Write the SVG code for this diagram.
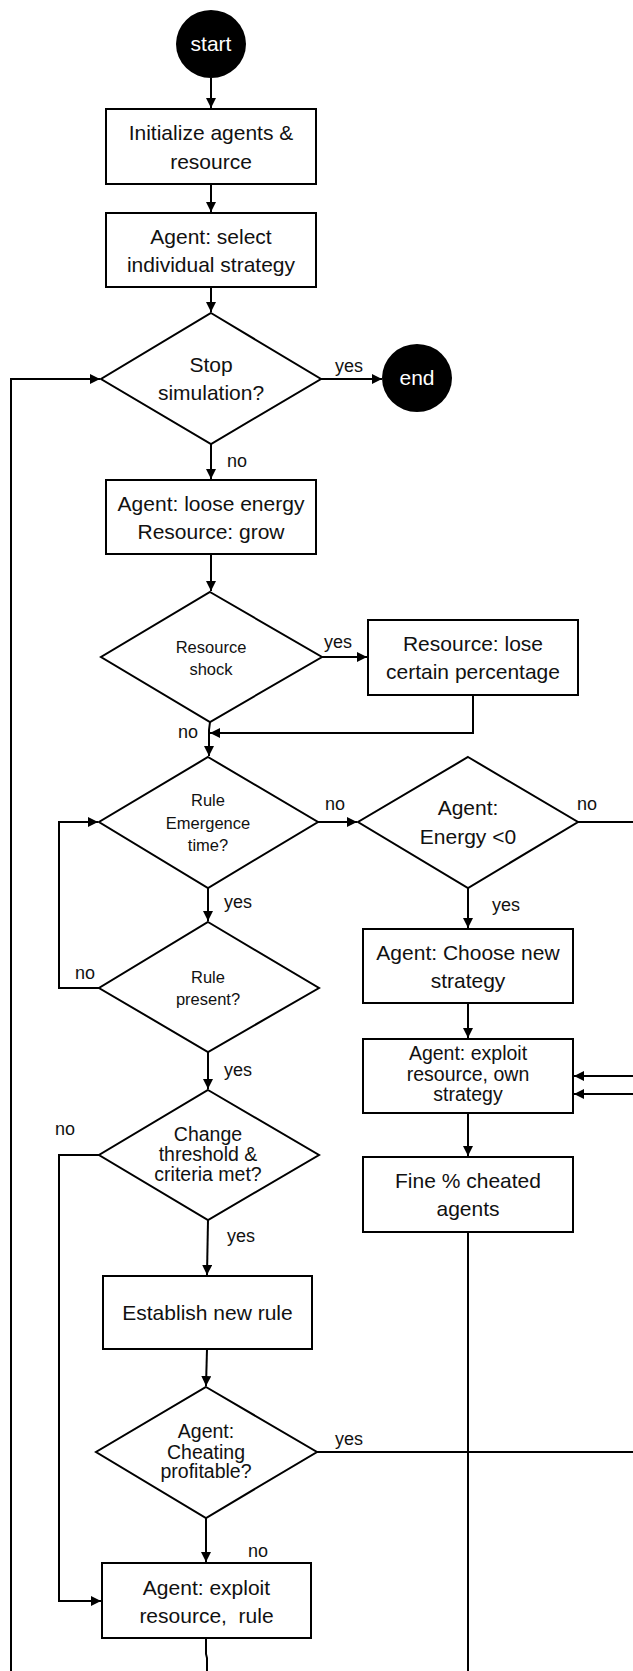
<svg xmlns="http://www.w3.org/2000/svg" width="633" height="1671" viewBox="0 0 633 1671">
<defs>
<marker id="ah" markerUnits="userSpaceOnUse" markerWidth="11" markerHeight="11" refX="10" refY="5" orient="auto">
<path d="M0,0 L10,5 L0,10 z" fill="#000"/>
</marker>
<style>
.b{fill:#fff;stroke:#000;stroke-width:2}
.t{font-family:"Liberation Sans",Arial,sans-serif;fill:#111;text-anchor:middle}
.L{font-size:21px}
.M{font-size:19.5px}
.S{font-size:16.5px}
.lb{font-family:"Liberation Sans",Arial,sans-serif;font-size:18px;fill:#111;text-anchor:middle}
.c{fill:none;stroke:#000;stroke-width:2}
.a{marker-end:url(#ah)}
</style>
</defs>
<rect width="633" height="1671" fill="#fff"/>
<g id="connectors">
<path class="c a" d="M211,78 L211,108"/>
<path class="c a" d="M211,184 L211,212"/>
<path class="c a" d="M211,287 L211,312"/>
<path class="c a" d="M321,379 L382,379"/>
<path class="c a" d="M211,444 L211,479"/>
<path class="c a" d="M211,554 L211,591"/>
<path class="c a" d="M322,657 L367,657"/>
<path class="c a" d="M473,695 L473,733 L210,733"/>
<path class="c a" d="M210,722 L209,730 L209,756"/>
<path class="c a" d="M318,822 L357,822"/>
<path class="c" d="M578,822 L633,822"/>
<path class="c a" d="M468,888 L468,928"/>
<path class="c a" d="M468,1003 L468,1038"/>
<path class="c a" d="M633,1076 L574,1076"/>
<path class="c a" d="M633,1094 L574,1094"/>
<path class="c a" d="M208,888 L208,921"/>
<path class="c a" d="M99,988 L59,988 L59,822 L98,822"/>
<path class="c a" d="M208,1052 L208,1089"/>
<path class="c a" d="M99,1155 L59,1155 L59,1601 L101,1601"/>
<path class="c a" d="M208,1220 L207,1275"/>
<path class="c a" d="M207,1349 L206,1386"/>
<path class="c" d="M317,1452 L633,1452"/>
<path class="c a" d="M206,1518 L206,1562"/>
<path class="c" d="M206,1638 L206,1654 L207,1658 L207,1671"/>
<path class="c a" d="M468,1113 L468,1156"/>
<path class="c" d="M468,1232 L468,1671"/>
<path class="c a" d="M11,1671 L11,379 L100,379"/>
</g>
<g id="start">
<ellipse cx="211" cy="44" rx="35" ry="34" fill="#000"/>
<text class="t L" x="211" y="51" style="fill:#fff">start</text>
</g>
<g id="init">
<rect class="b" x="106" y="109" width="210" height="75"/>
<text class="t L" x="211" y="140">Initialize agents &amp;</text>
<text class="t L" x="211" y="169">resource</text>
</g>
<g id="select">
<rect class="b" x="106" y="213" width="210" height="74"/>
<text class="t L" x="211" y="244">Agent: select</text>
<text class="t L" x="211" y="272">individual strategy</text>
</g>
<g id="stop">
<polygon class="b" points="211,313 321,379 211,444 101,379"/>
<text class="t L" x="211" y="372">Stop</text>
<text class="t L" x="211" y="400">simulation?</text>
<text class="lb" x="349" y="372">yes</text>
<text class="lb" x="237" y="467">no</text>
</g>
<g id="end">
<ellipse cx="417" cy="378" rx="35" ry="34" fill="#000"/>
<text class="t L" x="417" y="385" style="fill:#fff">end</text>
</g>
<g id="loose">
<rect class="b" x="106" y="480" width="210" height="74"/>
<text class="t L" x="211" y="511">Agent: loose energy</text>
<text class="t L" x="211" y="539">Resource: grow</text>
</g>
<g id="shock">
<polygon class="b" points="210,592 322,657 210,722 101,657"/>
<text class="t S" x="211" y="652.5">Resource</text>
<text class="t S" x="211" y="674.5">shock</text>
<text class="lb" x="338" y="648">yes</text>
<text class="lb" x="188" y="738">no</text>
</g>
<g id="lose">
<rect class="b" x="368" y="620" width="210" height="75"/>
<text class="t L" x="473" y="651">Resource: lose</text>
<text class="t L" x="473" y="679">certain percentage</text>
</g>
<g id="emergence">
<polygon class="b" points="208,757 318,822 208,888 99,822"/>
<text class="t S" x="208" y="805.5">Rule</text>
<text class="t S" x="208" y="828.5">Emergence</text>
<text class="t S" x="208" y="851">time?</text>
<text class="lb" x="335" y="810">no</text>
<text class="lb" x="238" y="908">yes</text>
</g>
<g id="energy">
<polygon class="b" points="468,757 578,822 468,888 358,822"/>
<text class="t L" x="468" y="815">Agent:</text>
<text class="t L" x="468" y="844">Energy &lt;0</text>
<text class="lb" x="587" y="810">no</text>
<text class="lb" x="506" y="911">yes</text>
</g>
<g id="choose">
<rect class="b" x="363" y="929" width="210" height="74"/>
<text class="t L" x="468" y="960">Agent: Choose new</text>
<text class="t L" x="468" y="988">strategy</text>
</g>
<g id="exploit-own">
<rect class="b" x="363" y="1039" width="210" height="74"/>
<text class="t M" x="468" y="1059.5">Agent: exploit</text>
<text class="t M" x="468" y="1080.5">resource, own</text>
<text class="t M" x="468" y="1100.5">strategy</text>
</g>
<g id="present">
<polygon class="b" points="208,922 319,988 208,1052 99,988"/>
<text class="t S" x="208" y="982.5">Rule</text>
<text class="t S" x="208" y="1004.5">present?</text>
<text class="lb" x="85" y="979">no</text>
<text class="lb" x="238" y="1076">yes</text>
</g>
<g id="threshold">
<polygon class="b" points="208,1090 319,1155 208,1220 99,1155"/>
<text class="t M" x="208" y="1140.5">Change</text>
<text class="t M" x="208" y="1160.5">threshold &amp;</text>
<text class="t M" x="208" y="1180.5">criteria met?</text>
<text class="lb" x="65" y="1135">no</text>
<text class="lb" x="241" y="1242">yes</text>
</g>
<g id="fine">
<rect class="b" x="363" y="1157" width="210" height="75"/>
<text class="t L" x="468" y="1188">Fine % cheated</text>
<text class="t L" x="468" y="1216">agents</text>
</g>
<g id="establish">
<rect class="b" x="103" y="1276" width="209" height="73"/>
<text class="t L" x="207.5" y="1320">Establish new rule</text>
</g>
<g id="cheating">
<polygon class="b" points="206,1387 317,1452 206,1518 96,1452"/>
<text class="t M" x="206" y="1437.5">Agent:</text>
<text class="t M" x="206" y="1458.5">Cheating</text>
<text class="t M" x="206" y="1477.5">profitable?</text>
<text class="lb" x="349" y="1445">yes</text>
<text class="lb" x="258" y="1557">no</text>
</g>
<g id="exploit-rule">
<rect class="b" x="102" y="1563" width="209" height="75"/>
<text class="t L" x="206.5" y="1595">Agent: exploit</text>
<text class="t L" x="206.5" y="1623" style="white-space:pre">resource,  rule</text>
</g>
</svg>
